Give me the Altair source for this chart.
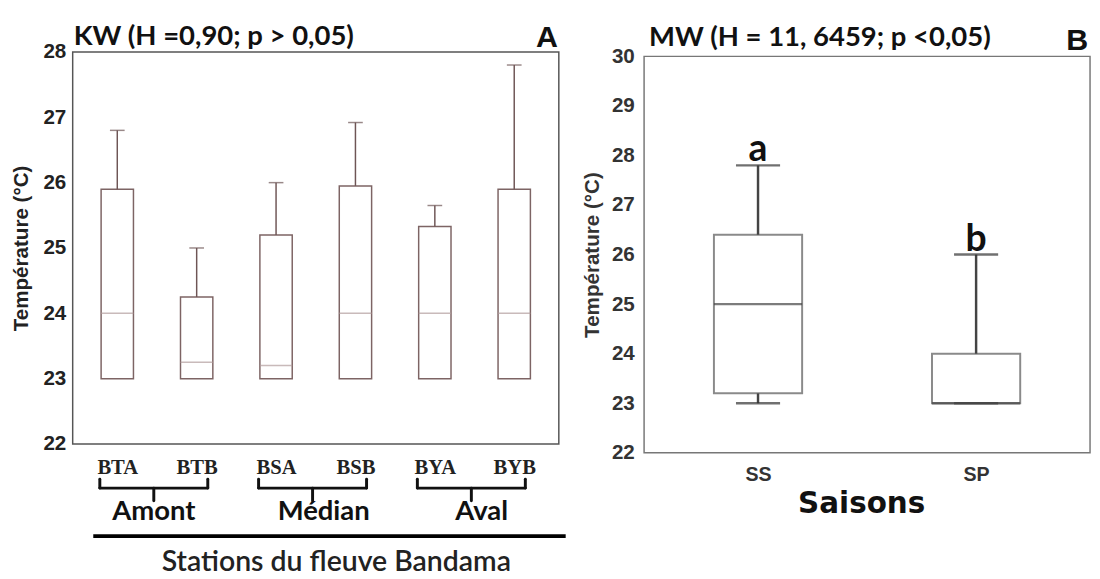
import json
import altair as alt
import pandas as pd

# ---------------- data ----------------
stations = ["BTA", "BTB", "BSA", "BSB", "BYA", "BYB"]
a_min = [23.0, 23.0, 23.0, 23.0, 23.0, 23.0]
a_q1 = [23.0, 23.0, 23.0, 23.0, 23.0, 23.0]
a_med = [24.0, 23.25, 23.2, 24.0, 24.0, 24.0]
a_q3 = [25.9, 24.25, 25.2, 25.95, 25.33, 25.9]
a_max = [26.8, 25.0, 26.0, 26.92, 25.65, 27.8]
a_ticks = [22, 23, 24, 25, 26, 27, 28]

groups = ["Amont", "Médian", "Aval"]
group_first = [0, 2, 4]
group_last = [1, 3, 5]

seasons = ["SS", "SP"]
b_min = [23.0, 23.0]
b_q1 = [23.2, 23.0]
b_med = [25.0, 23.0]
b_q3 = [26.4, 24.0]
b_max = [27.8, 26.0]
b_letters = ["a", "b"]
b_ticks = [22, 23, 24, 25, 26, 27, 28, 29, 30]

title_a = "KW (H =0,90; p > 0,05)"
title_b = "MW (H = 11, 6459; p <0,05)"
xtitle_a = "Stations du fleuve Bandama"
xtitle_b = "Saisons"
ytitle = "Température (°C)"

# ---------------- tables ----------------
label_shift = [-0.04, 0.1, 0.09]  # small horizontal nudges of the group names
dfA = pd.DataFrame({
    "station": stations,
    "xpos": [i + 0.5 for i in range(len(stations))],
    "min": a_min, "q1": a_q1, "med": a_med, "q3": a_q3, "max": a_max,
})
dfG = pd.DataFrame({
    "label": groups,
    "start": [f + 0.28 for f in group_first],
    "end": [l + 0.64 for l in group_last],
    "center": [(f + l) / 2 + 0.5 + s for f, l, s in zip(group_first, group_last, label_shift)],
})
dfG["mid"] = (dfG["start"] + dfG["end"]) / 2

dfB = pd.DataFrame({
    "season": seasons,
    "xpos": [i + 0.5 for i in range(len(seasons))],
    "min": b_min, "q1": b_q1, "med": b_med, "q3": b_q3, "max": b_max,
    "letter": b_letters,
})

SANS = "Liberation Sans"
CAL = "Lato"
one0 = pd.DataFrame({"t": [0]})
ANCHOR = -38

# ---------------- panel A ----------------
WA, HA = 496, 400
axA_x = alt.Axis(values=[i + 0.5 for i in range(len(stations))],
                 labelExpr=f"{json.dumps(stations)}[floor(datum.value)]",
                 title=None, grid=False, domain=False, ticks=False,
                 labelFont="Liberation Serif", labelFontSize=21, labelFontWeight="bold",
                 labelColor="#222", labelPadding=13)
axA_y = alt.Axis(values=a_ticks, title=ytitle, grid=False, domain=False, ticks=False,
                 labelFont=SANS, labelFontSize=21, labelFontWeight="bold", labelColor="#222",
                 labelPadding=7, titleFont=SANS, titleFontSize=21, titleFontWeight="bold",
                 titleColor="#222", titleX=-52, titleBaseline="middle")
scA_x = alt.Scale(domain=[0, len(stations)], nice=False, zero=False)
scA_y = alt.Scale(domain=[22, 28], nice=False, zero=False)


def xA(f):
    return alt.X(f, type="quantitative", scale=scA_x, axis=axA_x)


def yA(f):
    return alt.Y(f, type="quantitative", scale=scA_y, axis=axA_y)


baseA = alt.Chart(dfA)
boxA = baseA.mark_bar(size=33, fill="white", stroke="#7d6464", strokeWidth=1.5).encode(
    x=xA("xpos"), y=yA("q1"), y2="q3")
whiskA = baseA.mark_rule(color="#6e5555", strokeWidth=1.5).encode(
    x=xA("xpos"), y=yA("q3"), y2="max")
capA = baseA.mark_tick(orient="horizontal", size=15, thickness=1.5, color="#6e5555").encode(
    x=xA("xpos"), y=yA("max"))
medA = baseA.mark_tick(orient="horizontal", size=33, thickness=1.5, color="#b29c9c").encode(
    x=xA("xpos"), y=yA("med"))

baseG = alt.Chart(dfG)
br_h = baseG.mark_rule(color="#111", strokeWidth=3, strokeCap="round").encode(
    x=xA("start"), x2="end", y=alt.value(445))
br_l = baseG.mark_rule(color="#111", strokeWidth=3, strokeCap="round").encode(
    x=xA("start"), y=alt.value(436), y2=alt.value(445))
br_r = baseG.mark_rule(color="#111", strokeWidth=3, strokeCap="round").encode(
    x=xA("end"), y=alt.value(436), y2=alt.value(445))
br_c = baseG.mark_rule(color="#111", strokeWidth=3, strokeCap="round").encode(
    x=xA("mid"), y=alt.value(445), y2=alt.value(458))
br_t = baseG.mark_text(font=CAL, fontSize=28, fontWeight="bold", color="#111",
                       baseline="alphabetic").encode(
    x=xA("center"), y=alt.value(478), text="label:N")

one = pd.DataFrame({"t": [xtitle_a]})
thick = alt.Chart(one).mark_rule(color="#000", strokeWidth=4).encode(
    x=alt.value(21), x2=alt.value(503), y=alt.value(494))
xt_a = alt.Chart(one).mark_text(font=CAL, fontSize=29, fontWeight=600, color="#222",
                                baseline="alphabetic").encode(
    x=alt.value(269), y=alt.value(530), text="t:N")
tt_a = alt.Chart(pd.DataFrame({"t": [title_a]})).mark_text(
    font=CAL, fontSize=28, fontWeight="bold", color="#111", align="left",
    baseline="alphabetic").encode(x=alt.value(1), y=alt.value(-7), text="t:N")
lab_a = alt.Chart(pd.DataFrame({"t": ["A"]})).mark_text(
    font=SANS, fontSize=31, fontWeight="bold", color="#111", align="right",
    baseline="alphabetic").encode(x=alt.value(495), y=alt.value(-5), text="t:N")
anchor_a = alt.Chart(one0).mark_rule(opacity=0).encode(
    x=alt.value(0), x2=alt.value(1), y=alt.value(ANCHOR))

panelA = alt.layer(boxA, whiskA, capA, medA, br_h, br_l, br_r, br_c, br_t,
                   thick, xt_a, tt_a, lab_a, anchor_a).properties(
    width=WA, height=HA,
    view=alt.ViewBackground(stroke="#555", strokeWidth=1.5))

# ---------------- panel B ----------------
WB, HB = 455, 409
TOPB = 4.5  # panel B frame sits a little lower than panel A's
axB_x = alt.Axis(values=[i + 0.5 for i in range(len(seasons))],
                 labelExpr=f"{json.dumps(seasons)}[floor(datum.value)]",
                 title=None, grid=False, domain=False, ticks=False,
                 labelFont=SANS, labelFontSize=20, labelFontWeight="bold",
                 labelColor="#333", labelPadding=12)
axB_y = alt.Axis(values=b_ticks, title=ytitle, grid=False, domain=False, ticks=False,
                 labelFont=SANS, labelFontSize=21, labelFontWeight="bold", labelColor="#333",
                 labelPadding=10, titleFont=SANS, titleFontSize=21, titleFontWeight="bold",
                 titleColor="#333", titleX=-53, titleBaseline="middle")
scB_x = alt.Scale(domain=[0, len(seasons)], nice=False, zero=False)
scB_y = alt.Scale(domain=[22, 30], nice=False, zero=False, range=[HB, TOPB])


def xB(f):
    return alt.X(f, type="quantitative", scale=scB_x, axis=axB_x)


def yB(f):
    return alt.Y(f, type="quantitative", scale=scB_y, axis=axB_y)


frameB = alt.Chart(one0).mark_rect(fillOpacity=0, stroke="#777", strokeWidth=1.5).encode(
    x=alt.value(0), x2=alt.value(WB), y=alt.value(TOPB), y2=alt.value(HB))
baseB = alt.Chart(dfB)
boxB = baseB.mark_bar(size=90, fill="white", stroke="#8a8a8a", strokeWidth=2).encode(
    x=xB("xpos"), y=yB("q1"), y2="q3")
whiskBu = baseB.mark_rule(color="#444", strokeWidth=2.5).encode(
    x=xB("xpos"), y=yB("q3"), y2="max")
whiskBl = baseB.mark_rule(color="#444", strokeWidth=2.5).encode(
    x=xB("xpos"), y=yB("min"), y2="q1")
capBu = baseB.mark_tick(orient="horizontal", size=45, thickness=2.5, color="#333").encode(
    x=xB("xpos"), y=yB("max"))
capBl = baseB.mark_tick(orient="horizontal", size=45, thickness=2.5, color="#333").encode(
    x=xB("xpos"), y=yB("min"))
medB = baseB.mark_tick(orient="horizontal", size=90, thickness=2.5, color="#444").encode(
    x=xB("xpos"), y=yB("med"))
letB = baseB.mark_text(font=CAL, fontSize=38, fontWeight="bold", color="#111",
                       baseline="alphabetic", dy=-4).encode(
    x=xB("xpos"), y=yB("max"), text="letter:N")

xt_b = alt.Chart(pd.DataFrame({"t": [xtitle_b]})).mark_text(
    font="DejaVu Sans", fontSize=30, fontWeight="bold", color="#111",
    baseline="alphabetic").encode(x=alt.value(222), y=alt.value(470), text="t:N")
tt_b = alt.Chart(pd.DataFrame({"t": [title_b]})).mark_text(
    font=CAL, fontSize=28, fontWeight="bold", color="#111", align="left",
    baseline="alphabetic").encode(x=alt.value(5), y=alt.value(-6), text="t:N")
lab_b = alt.Chart(pd.DataFrame({"t": ["B"]})).mark_text(
    font=SANS, fontSize=31, fontWeight="bold", color="#111", align="right",
    baseline="alphabetic").encode(x=alt.value(453), y=alt.value(-2), text="t:N")
anchor_b = alt.Chart(one0).mark_rule(opacity=0).encode(
    x=alt.value(0), x2=alt.value(1), y=alt.value(ANCHOR))

panelB = alt.layer(frameB, boxB, whiskBu, whiskBl, capBu, capBl, medB, letB,
                   xt_b, tt_b, lab_b, anchor_b).properties(
    width=WB, height=HB,
    view=alt.ViewBackground(stroke="transparent"))

chart = alt.hconcat(panelA, panelB, spacing=12).properties(
    padding={"left": 2, "top": 0, "right": 0, "bottom": 0},
    background="white",
)

chart.save("out.html", embed_options={"renderer": "svg", "actions": False})
